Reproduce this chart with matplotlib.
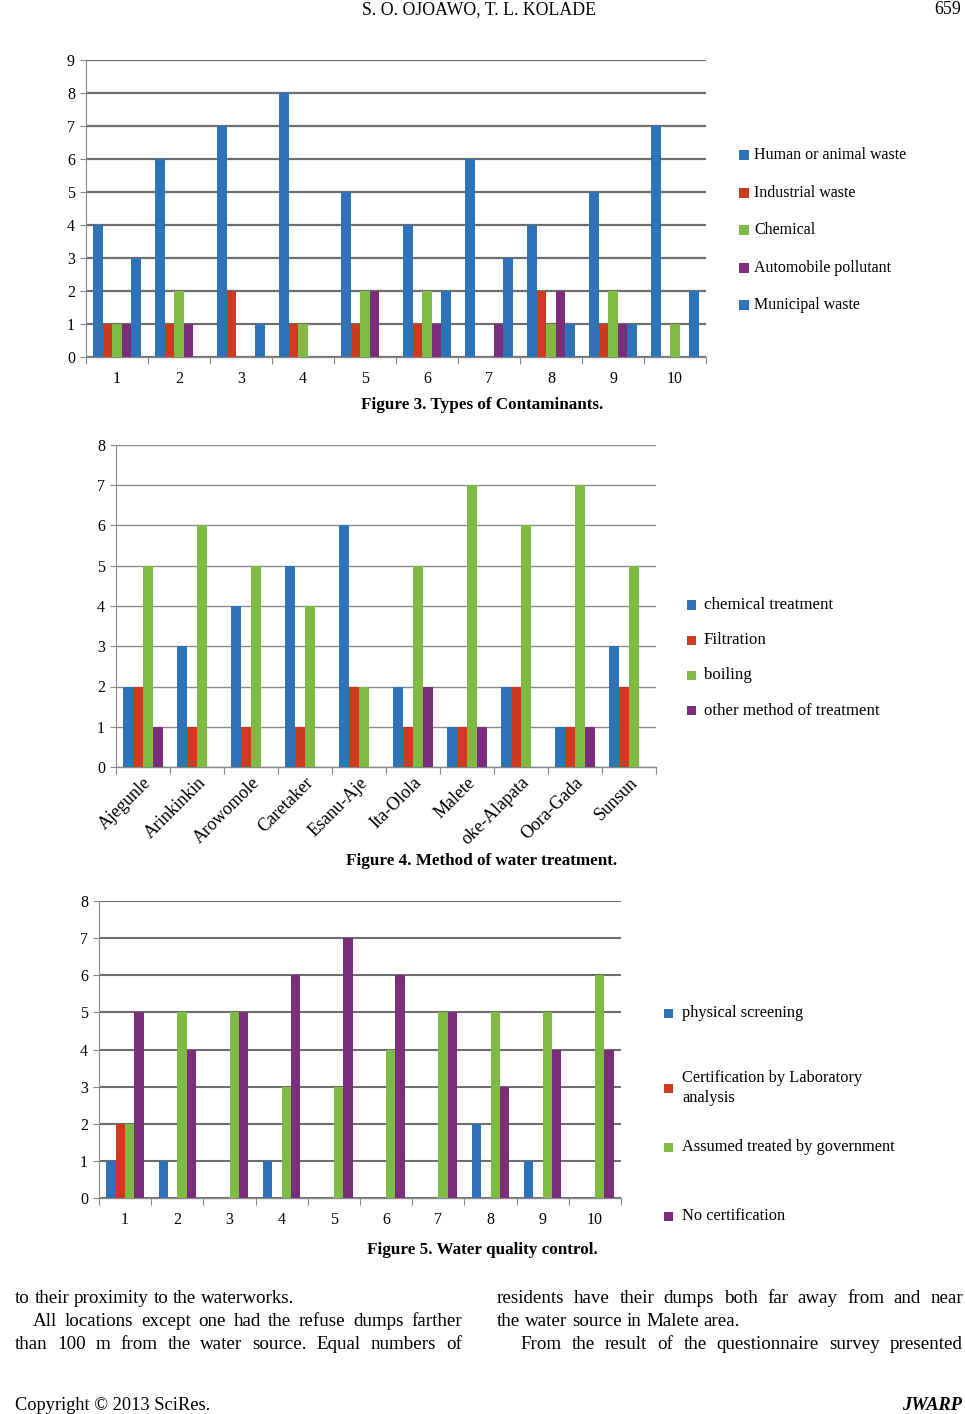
import matplotlib
matplotlib.use('Agg')
import matplotlib.pyplot as plt
from matplotlib.patches import Rectangle
import numpy as np

plt.rcParams['font.family'] = ['Liberation Serif', 'DejaVu Serif']

# ---------------- data ----------------
fig3_groups = ['1', '2', '3', '4', '5', '6', '7', '8', '9', '10']
fig3_series = ['Human or animal waste', 'Industrial waste', 'Chemical',
               'Automobile pollutant', 'Municipal waste']
fig3_human = [4, 6, 7, 8, 5, 4, 6, 4, 5, 7]
fig3_industrial = [1, 1, 2, 1, 1, 1, 0, 2, 1, 0]
fig3_chemical = [1, 2, 0, 1, 2, 2, 0, 1, 2, 1]
fig3_automobile = [1, 1, 0, 0, 2, 1, 1, 2, 1, 0]
fig3_municipal = [3, 0, 1, 0, 0, 2, 3, 1, 1, 2]

fig4_locations = ['Ajegunle', 'Arinkinkin', 'Arowomole', 'Caretaker', 'Esanu-Aje',
                  'Ita-Olola', 'Malete', 'oke-Alapata', 'Oora-Gada', 'Sunsun']
fig4_series = ['chemical treatment', 'Filtration', 'boiling', 'other method of treatment']
fig4_chemical = [2, 3, 4, 5, 6, 2, 1, 2, 1, 3]
fig4_filtration = [2, 1, 1, 1, 2, 1, 1, 2, 1, 2]
fig4_boiling = [5, 6, 5, 4, 2, 5, 7, 6, 7, 5]
fig4_other = [1, 0, 0, 0, 0, 2, 1, 0, 1, 0]

fig5_groups = ['1', '2', '3', '4', '5', '6', '7', '8', '9', '10']
fig5_series = ['physical screening', 'Certification by Laboratory\nanalysis',
               'Assumed treated by government', 'No certification']
fig5_physical = [1, 1, 0, 1, 0, 0, 0, 2, 1, 0]
fig5_certification = [2, 0, 0, 0, 0, 0, 0, 0, 0, 0]
fig5_assumed = [2, 5, 5, 3, 3, 4, 5, 5, 5, 6]
fig5_none = [5, 4, 5, 6, 7, 6, 5, 3, 4, 4]

BLUE = '#2E72B8'
RED = '#CC3A22'
GREEN = '#7DBB42'
PURPLE = '#7A2E7C'

W, H = 965, 1414
fig = plt.figure(figsize=(W / 100, H / 100), dpi=100)


def fx(x):
    return x / W


def fy(y):
    return 1 - y / H


def rect(l, t, r, b):
    return [fx(l), fy(b), fx(r) - fx(l), fy(t) - fy(b)]


def grouped(ax, series_vals, colors, width, ymax, labels, gridcol, gridlw,
            rot=False, fs=11.5, xfs=11.5):
    n = len(series_vals)
    x = np.arange(len(labels))
    for i, (vals, c) in enumerate(zip(series_vals, colors)):
        ax.bar(x + (i - (n - 1) / 2) * width, vals, width=width, color=c,
               zorder=3, linewidth=0)
    ax.set_xlim(-0.5, len(labels) - 0.5)
    ax.set_ylim(0, ymax)
    ax.set_yticks(range(0, ymax + 1))
    ax.yaxis.grid(True, color=gridcol, linewidth=gridlw, zorder=0)
    ax.set_axisbelow(True)
    for s in ['top', 'right']:
        ax.spines[s].set_visible(False)
    ax.spines['left'].set_color('#888888')
    ax.spines['bottom'].set_color('#888888')
    ax.spines['left'].set_linewidth(0.8)
    ax.spines['bottom'].set_linewidth(1.0)
    ax.set_xticks(np.arange(-0.5, len(labels)), minor=False)
    ax.set_xticklabels([])
    ax.set_xticks(x, minor=True)
    ax.tick_params(axis='x', which='major', length=5, color='#888888', direction='out')
    ax.tick_params(axis='x', which='minor', length=0)
    ax.tick_params(axis='y', length=4, color='#888888', labelsize=fs, pad=4)
    if rot:
        ax.set_xticklabels(labels, minor=True, rotation=45, ha='right',
                           rotation_mode='anchor', fontsize=xfs)
        ax.tick_params(axis='x', which='minor', pad=5)
    else:
        ax.set_xticklabels(labels, minor=True, fontsize=xfs)
        ax.tick_params(axis='x', which='minor', pad=10)


def legend(entries, colors, xm, ys, size, fs, gap=6):
    for lab, c, y in zip(entries, colors, ys):
        fig.add_artist(Rectangle((fx(xm), fy(y + size / 2)), size / W, size / H,
                                 transform=fig.transFigure, color=c, lw=0))
        fig.text(fx(xm + size + gap), fy(y), lab, fontsize=fs, va='center', ha='left',
                 linespacing=1.4)


# ---------- Figure 3 ----------
ax1 = fig.add_axes(rect(86, 60, 706, 357))
grouped(ax1, [fig3_human, fig3_industrial, fig3_chemical, fig3_automobile, fig3_municipal],
        [BLUE, RED, GREEN, PURPLE, BLUE], 0.155, 9, fig3_groups, '#6e6e6e', 1.6)
legend(fig3_series, [BLUE, RED, GREEN, PURPLE, BLUE], 739, [155, 193, 230, 268, 305], 10, 11.5, 5)
fig.text(fx(482), fy(405), 'Figure 3. Types of Contaminants.', ha='center', va='center',
         fontsize=12.3, fontweight='bold')

# ---------- Figure 4 ----------
ax2 = fig.add_axes(rect(116, 445, 656, 767))
grouped(ax2, [fig4_chemical, fig4_filtration, fig4_boiling, fig4_other],
        [BLUE, RED, GREEN, PURPLE], 0.185, 8, fig4_locations, '#8a8a8a', 1.0, rot=True,
        xfs=13)
legend(fig4_series, [BLUE, RED, GREEN, PURPLE], 687, [605, 640, 675, 711], 9, 12.2, 8)
fig.text(fx(482), fy(861), 'Figure 4. Method of water treatment.', ha='center', va='center',
         fontsize=12.3, fontweight='bold')

# ---------- Figure 5 ----------
ax3 = fig.add_axes(rect(99, 901, 621, 1198))
grouped(ax3, [fig5_physical, fig5_certification, fig5_assumed, fig5_none],
        [BLUE, RED, GREEN, PURPLE], 0.18, 8, fig5_groups, '#6e6e6e', 1.5)
legend(fig5_series, [BLUE, RED, GREEN, PURPLE], 664, [1013, 1088, 1147, 1216], 9, 11.8, 9)
fig.text(fx(482), fy(1250), 'Figure 5. Water quality control.', ha='center', va='center',
         fontsize=12.3, fontweight='bold')

# ---------- page text ----------
fig.text(fx(479), fy(10), 'S. O. OJOAWO, T. L. KOLADE', ha='center', va='center', fontsize=12.8)
fig.text(fx(961), fy(10), '659', ha='right', va='center', fontsize=12.8)

renderer = fig.canvas.get_renderer()
BODY_FS = 13.7


def line(text, x0, x1, base, justify=True):
    words = text.split()
    ts = [fig.text(0, fy(base), w, fontsize=BODY_FS, va='baseline', ha='left') for w in words]
    widths = [t.get_window_extent(renderer).width for t in ts]
    if justify and len(words) > 1:
        gap = (x1 - x0 - sum(widths)) / (len(words) - 1)
    else:
        sp = fig.text(0, 0, 'a a', fontsize=BODY_FS)
        sp2 = fig.text(0, 0, 'aa', fontsize=BODY_FS)
        gap = sp.get_window_extent(renderer).width - sp2.get_window_extent(renderer).width
        sp.remove()
        sp2.remove()
    x = x0
    for t, w in zip(ts, widths):
        t.set_x(fx(x))
        x += w + gap


line('to their proximity to the waterworks.', 15, 462, 1303, justify=False)
line('All locations except one had the refuse dumps farther', 33, 462, 1326)
line('than 100 m from the water source. Equal numbers of', 15, 462, 1349)
line('residents have their dumps both far away from and near', 497, 963, 1303)
line('the water source in Malete area.', 497, 963, 1326, justify=False)
line('From the result of the questionnaire survey presented', 520, 963, 1349)

fig.text(fx(15), fy(1405), 'Copyright \u00a9 2013 SciRes.', ha='left', va='center', fontsize=13.2)
fig.text(fx(962), fy(1405), 'JWARP', ha='right', va='center', fontsize=13.2,
         fontweight='bold', fontstyle='italic')

fig.savefig('out.png', dpi=100)
